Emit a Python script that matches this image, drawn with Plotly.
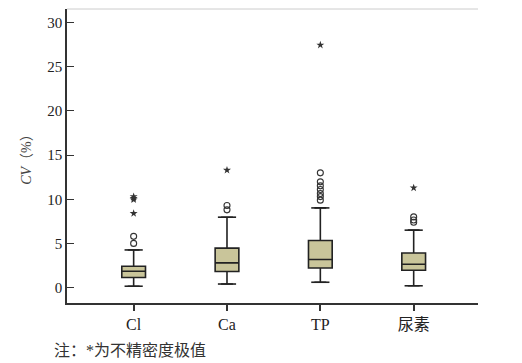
import plotly.graph_objects as go

categories = ["Cl", "Ca", "TP", "尿素"]
q1 = [1.13, 1.81, 2.22, 1.96]
median = [1.85, 2.79, 3.17, 2.64]
q3 = [2.41, 4.46, 5.33, 3.92]
lower_fence = [0.15, 0.40, 0.60, 0.20]
upper_fence = [4.26, 7.97, 9.02, 6.50]

circle_outliers = {
    "Cl": [5.0, 5.8],
    "Ca": [8.8, 9.3],
    "TP": [9.9, 10.3, 10.66, 11.1, 11.52, 11.97, 12.99],
    "尿素": [7.4, 7.65, 8.0],
}
star_outliers = {
    "Cl": [8.4, 9.95, 10.1, 10.3],
    "Ca": [13.3],
    "TP": [27.47],
    "尿素": [11.29],
}

SERIF = "Liberation Serif, Noto Sans CJK SC, serif"
DARK = "#333333"

fig = go.Figure()
fig.add_trace(go.Box(
    x=categories, q1=q1, median=median, q3=q3,
    lowerfence=lower_fence, upperfence=upper_fence,
    boxpoints=False, width=0.254,
    fillcolor="#c9c59a", line=dict(color="#222222", width=1.6),
    showlegend=False, hoverinfo="skip",
))
# whisker caps
fig.add_trace(go.Scatter(
    x=categories + categories, y=lower_fence + upper_fence, mode="markers",
    marker=dict(symbol="line-ew", size=13, line=dict(color="#222222", width=1.6)),
    showlegend=False, hoverinfo="skip",
))
cx, cy = [], []
for c in categories:
    for v in circle_outliers[c]:
        cx.append(c); cy.append(v)
fig.add_trace(go.Scatter(
    x=cx, y=cy, mode="markers",
    marker=dict(symbol="circle-open", size=6, color=DARK, line=dict(width=1.1)),
    showlegend=False, hoverinfo="skip",
))
sx, sy = [], []
for c in categories:
    for v in star_outliers[c]:
        sx.append(c); sy.append(v)
fig.add_trace(go.Scatter(
    x=sx, y=sy, mode="markers",
    marker=dict(symbol="star", size=6, color=DARK),
    showlegend=False, hoverinfo="skip",
))

fig.update_layout(
    width=522, height=363,
    margin=dict(l=67, r=44, t=9, b=60),
    paper_bgcolor="white", plot_bgcolor="white",
    font=dict(family=SERIF, color="#222222", size=15),
    xaxis=dict(
        type="category", range=[-0.714, 3.689], automargin=False,
        showline=True, linecolor=DARK, linewidth=2,
        ticks="outside", ticklen=6, tickcolor=DARK, tickwidth=1.5,
        tickfont=dict(size=16, family=SERIF, color="#222222"),
        showgrid=False, zeroline=False,
    ),
    yaxis=dict(
        range=[-1.75, 31.55], tickvals=[0, 5, 10, 15, 20, 25, 30], automargin=False,
        showline=True, linecolor=DARK, linewidth=1.5,
        ticks="inside", ticklen=7, tickcolor=DARK, tickwidth=1.2,
        tickfont=dict(size=15, family=SERIF, color="#222222"),
        showgrid=False, zeroline=False,
        title=dict(text="<i>CV</i>（%）", font=dict(size=14, family=SERIF, color="#444444"), standoff=12),
    ),
    shapes=[dict(type="line", xref="paper", yref="paper", x0=0, x1=1, y0=1, y1=1,
                 line=dict(color="#cccccc", width=1))],
    annotations=[dict(text="注：*为不精密度极值", xref="paper", yref="paper",
                      x=-15/411, y=-47/294, xanchor="left", yanchor="middle",
                      showarrow=False, font=dict(size=16, family=SERIF, color="#333333"))],
)
fig.write_html("out.html", config={"displayModeBar": False},
               post_script="document.body.style.margin='0';document.body.style.overflow='hidden';")
